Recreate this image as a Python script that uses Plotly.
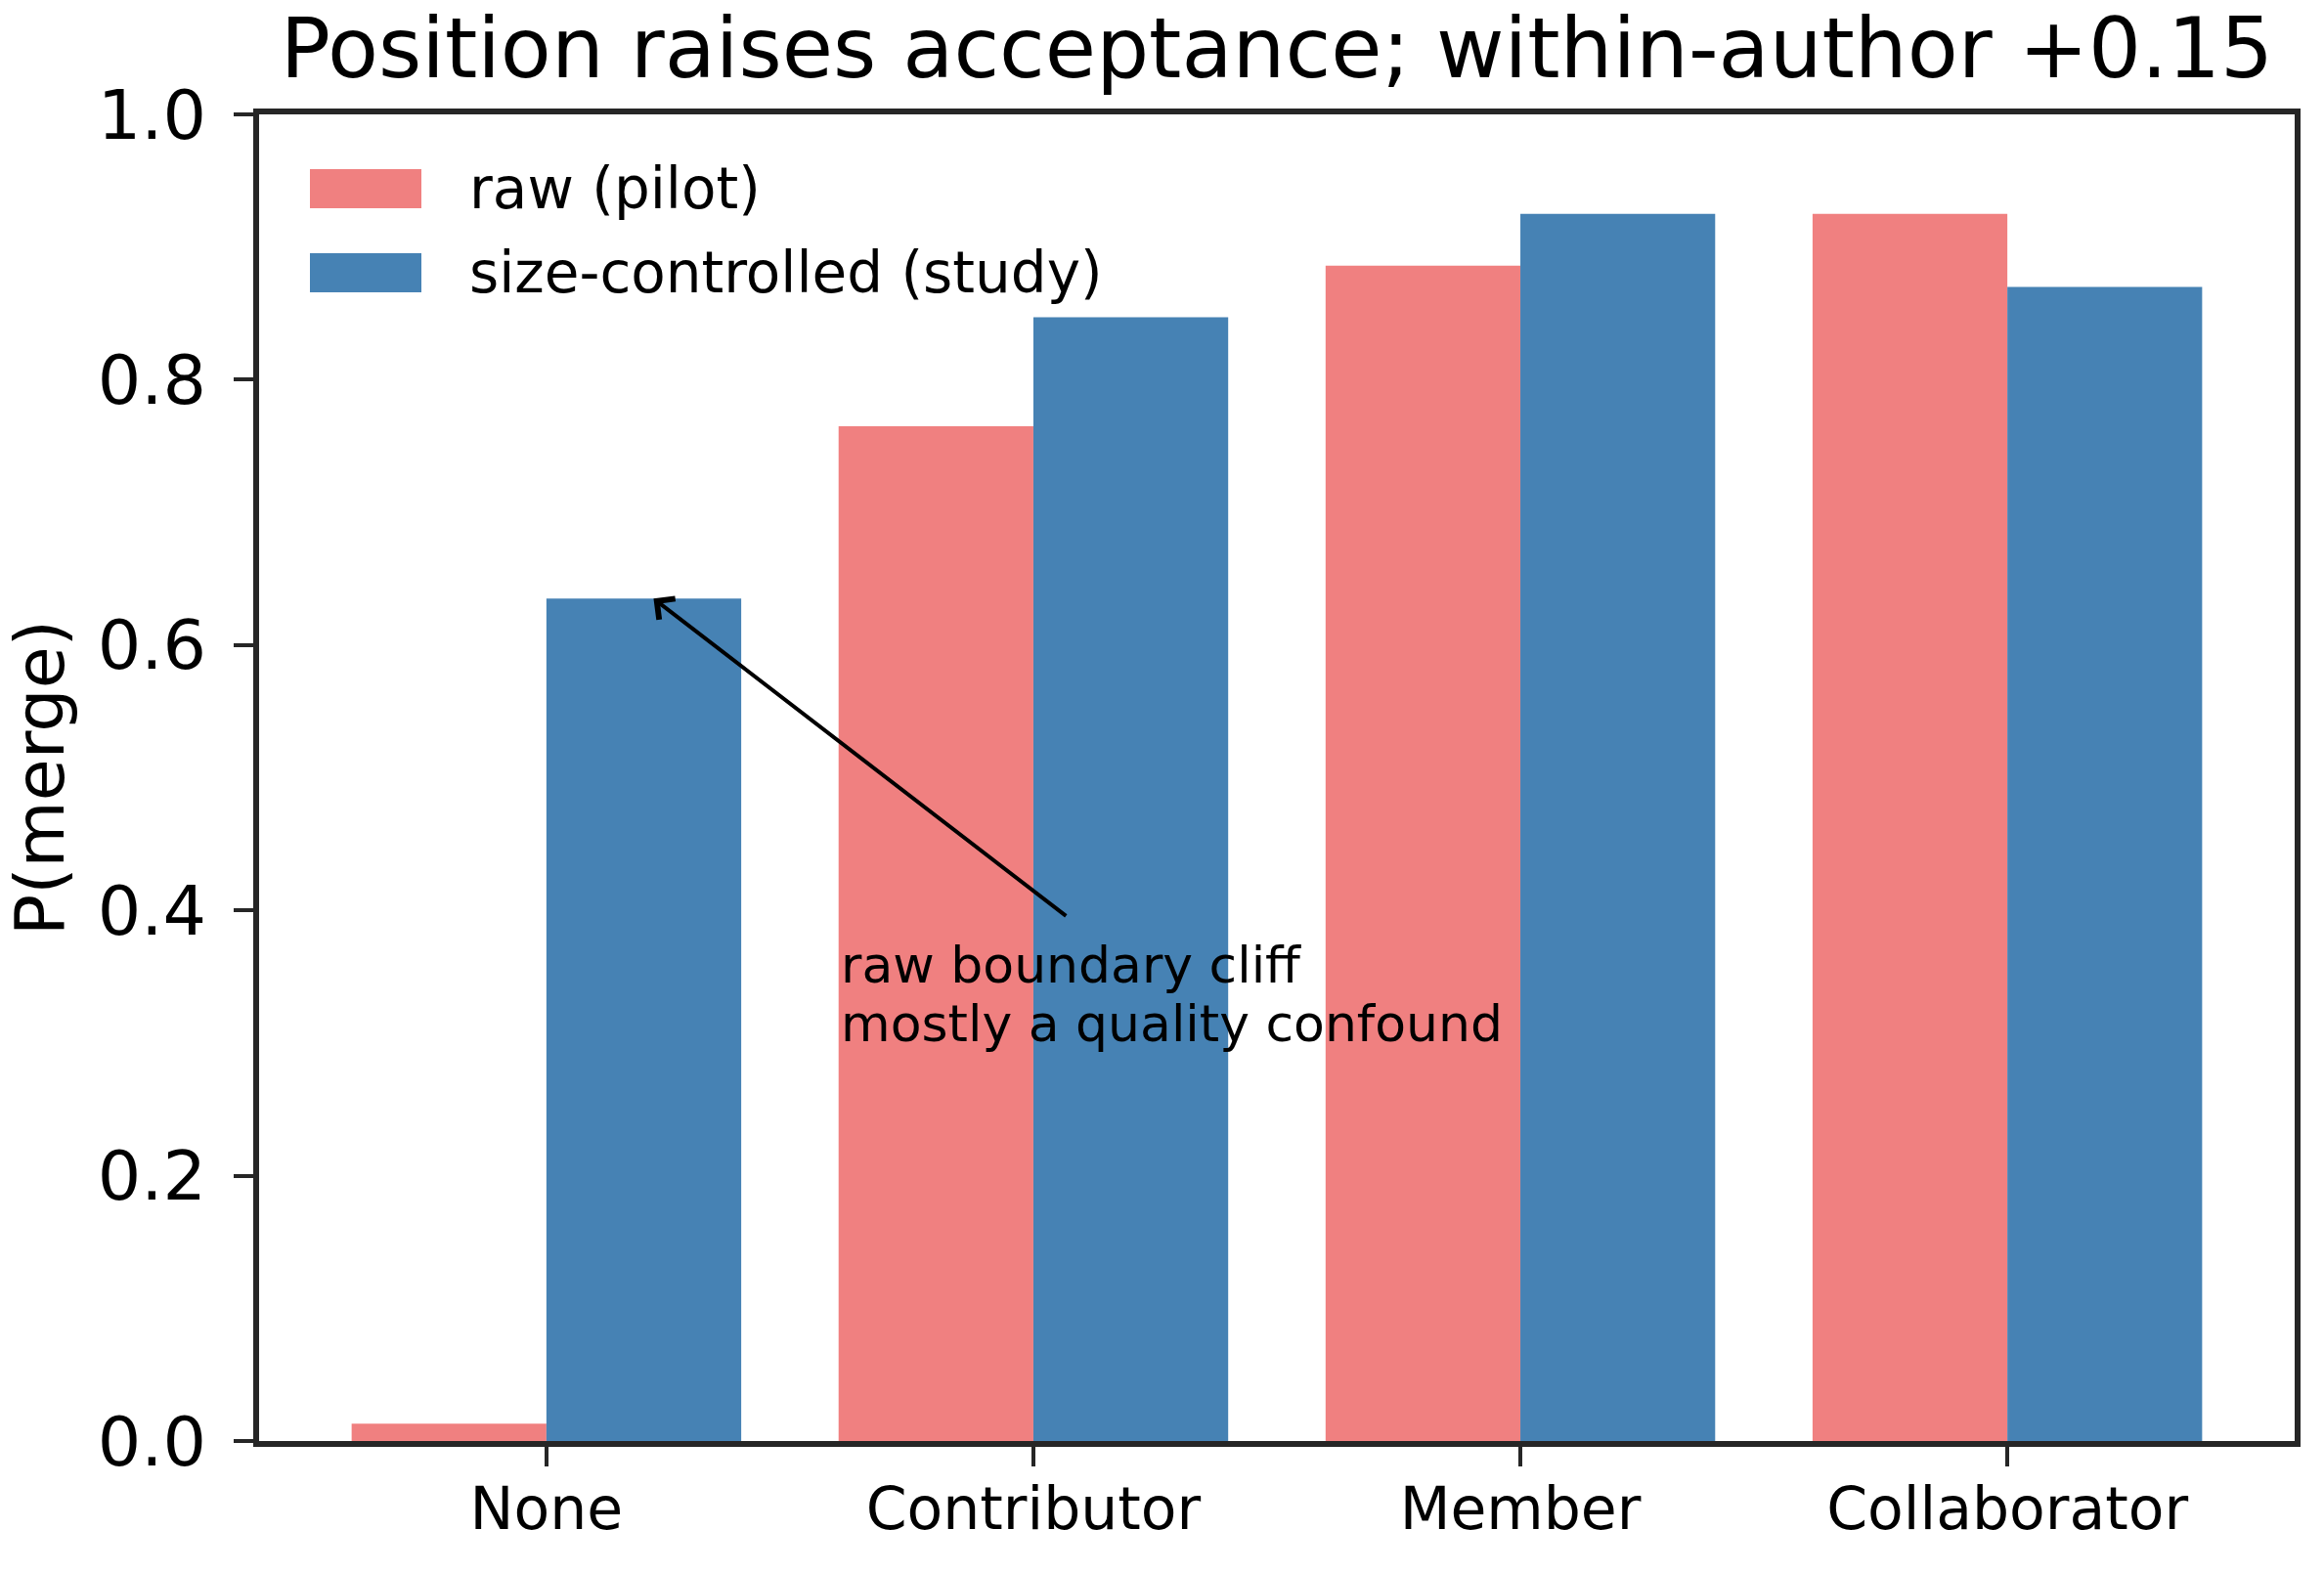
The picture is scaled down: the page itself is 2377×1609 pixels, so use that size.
import plotly.graph_objects as go

categories = ["None", "Contributor", "Member", "Collaborator"]
raw_pilot = [0.013, 0.765, 0.886, 0.925]
size_controlled = [0.635, 0.847, 0.925, 0.870]
y_ticks = [0.0, 0.2, 0.4, 0.6, 0.8, 1.0]
series_names = ["raw (pilot)", "size-controlled (study)"]
colors = ["#F08080", "#4682B4"]
title_text = "Position raises acceptance; within-author +0.15"
note_lines = ["raw boundary cliff", "mostly a quality confound"]

W, H = 2377, 1609
L, R, T, B = 265, 2347, 117, 1474  # plot area in pixels
FONT = "DejaVu Sans"
AX = "#262626"


def px(x):
    return (x - L) / (R - L)


def py(y):
    return (B - y) / (B - T)


fig = go.Figure()
for name, vals, col in zip(series_names, [raw_pilot, size_controlled], colors):
    fig.add_trace(go.Bar(x=categories, y=vals, name=name, marker_color=col,
                         marker_line_width=0, showlegend=False))

fig.update_layout(
    width=W, height=H,
    margin=dict(l=L, r=W - R, t=T, b=H - B, pad=0),
    paper_bgcolor="white", plot_bgcolor="white",
    barmode="group", bargap=0.2, bargroupgap=0,
    font=dict(family=FONT, color="black"),
    title=dict(text=title_text, font=dict(size=85, family=FONT, color="black"),
               x=0.5, xref="paper", xanchor="center",
               y=1, yref="paper", yanchor="bottom", pad=dict(b=38)),
)

fig.update_xaxes(
    type="category", range=[-0.59, 3.59],
    showline=True, linewidth=6, linecolor=AX, mirror=True,
    ticks="outside", ticklen=20, tickwidth=4, tickcolor=AX,
    tickfont=dict(size=60, family=FONT, color="black"),
    showgrid=False, zeroline=False, ticklabelstandoff=-8,
)
fig.update_yaxes(
    range=[0, 1.0], tickvals=y_ticks, tickformat=".1f",
    showline=True, linewidth=6, linecolor=AX, mirror=True,
    ticks="outside", ticklen=20, tickwidth=4, tickcolor=AX,
    tickfont=dict(size=70, family=FONT, color="black"),
    showgrid=False, zeroline=False, ticklabelstandoff=14,
    title=dict(text="P(merge)", font=dict(size=70, family=FONT, color="black"), standoff=20),
)

# annotation arrow and text
fig.add_annotation(x=0.22, y=size_controlled[0], ax=1.07, ay=0.395,
                   xref="x", yref="y", axref="x", ayref="y", text="",
                   showarrow=True, arrowhead=4, arrowsize=1.3, arrowwidth=4,
                   arrowcolor="black", standoff=0, startstandoff=0)
for i, line in enumerate(note_lines):
    fig.add_annotation(x=0.6, y=[0.359, 0.315][i], xref="x", yref="y",
                       text=line, showarrow=False, xanchor="left", yanchor="middle",
                       font=dict(size=52, family=FONT, color="black"))

# legend drawn manually (large patches like the reference)
legend_rows = [193, 279]
for name, col, yc in zip(series_names, colors, legend_rows):
    fig.add_shape(type="rect", xref="paper", yref="paper",
                  x0=px(317), x1=px(431), y0=py(yc + 20), y1=py(yc - 20),
                  fillcolor=col, line_width=0, layer="above")
    fig.add_annotation(x=px(478), y=py(yc), xref="paper", yref="paper",
                       text=name, showarrow=False, xanchor="left", yanchor="middle",
                       font=dict(size=58, family=FONT, color="black"))

fig.write_html("out.html")
